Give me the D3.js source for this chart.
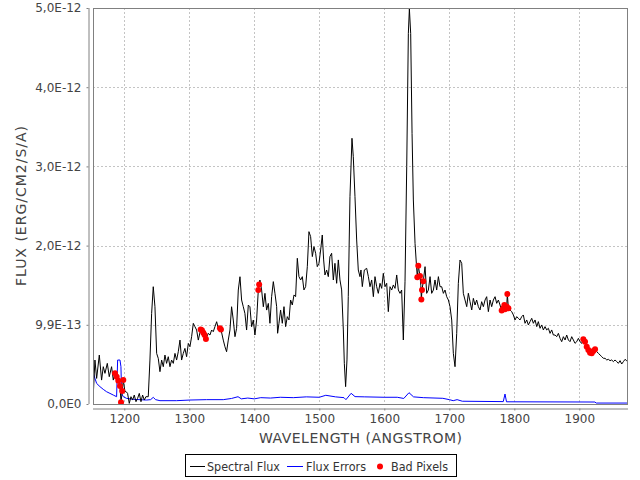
<!DOCTYPE html>
<html><head><meta charset="utf-8">
<script src="https://cdn.jsdelivr.net/npm/d3@7"></script>
<style>
html,body{margin:0;padding:0;background:#fff;}
svg{display:block;font-family:"DejaVu Sans",sans-serif;}
</style></head>
<body>
<svg id="chart" width="640" height="480"></svg>
<script>
// Flux values are in units of 1e-13 erg/cm2/s/A; [wavelength, flux]
const FLUX_UNIT = 1e-13;
const spectralFlux = [
[1151.9,0.9],[1152.3,1.13],[1154.9,5.55],[1157.5,3.23],[1161.6,6.18],[1165.1,3.02],[1167.7,4.71],[1170.3,3.87],
[1173.9,5.13],[1176.9,3.45],[1180.5,4.71],[1183.1,3.02],[1185.7,3.87],[1188.3,3.45],[1190.8,2.94],[1193.4,2.27],
[1195.0,0.21],[1196.9,1.64],[1198.5,3.03],[1201.0,1.60],[1203.6,1.50],[1205.1,1.34],[1207.7,0.08],[1210.3,0.92],
[1212.8,0.50],[1215.4,1.13],[1218.0,0.29],[1220.5,0.71],[1223.1,1.34],[1225.7,0.29],[1228.2,1.13],[1230.8,0.50],
[1233.3,0.92],[1236.9,0.92],[1239.5,5.55],[1242.1,11.44],[1244.6,14.81],[1247.2,12.28],[1249.8,6.39],[1252.3,5.76],
[1254.9,4.08],[1257.5,5.55],[1260.0,4.71],[1262.6,6.18],[1265.1,5.13],[1267.7,5.97],[1270.3,4.71],[1272.8,5.55],
[1275.4,5.13],[1278.0,6.39],[1280.5,5.55],[1283.1,6.60],[1285.7,8.07],[1288.2,5.55],[1290.8,6.39],[1293.3,7.02],
[1295.9,5.97],[1298.5,7.65],[1301.0,7.23],[1303.6,8.50],[1306.2,10.18],[1308.7,9.76],[1311.3,9.34],[1313.9,8.07],
[1317.5,9.40],[1319.5,9.30],[1321.6,9.00],[1323.6,8.70],[1325.6,8.20],[1329.2,8.92],[1331.8,8.71],[1334.4,9.34],
[1336.9,9.13],[1339.5,9.76],[1342.1,10.39],[1344.6,9.55],[1347.2,9.55],[1348.7,9.42],[1352.3,8.07],[1354.9,7.23],
[1357.4,6.60],[1360.0,8.07],[1362.6,9.34],[1365.1,12.28],[1367.7,10.60],[1370.3,8.50],[1372.8,9.55],[1375.4,14.39],
[1378.0,16.07],[1380.5,13.13],[1383.1,12.28],[1385.6,11.44],[1388.2,9.34],[1390.8,12.49],[1393.3,12.28],[1395.9,9.76],
[1398.5,10.60],[1401.0,8.71],[1403.6,10.60],[1406.2,14.39],[1407.5,15.10],[1408.7,15.65],[1411.3,14.39],[1413.9,12.28],
[1416.4,13.97],[1419.0,11.86],[1421.6,12.70],[1424.1,10.19],[1426.7,13.56],[1429.3,15.45],[1431.8,13.98],[1434.4,12.29],
[1435.9,8.93],[1438.0,10.19],[1440.5,11.87],[1443.1,10.19],[1445.7,12.29],[1448.2,9.77],[1450.8,11.03],[1453.4,10.61],
[1455.9,13.13],[1458.5,12.50],[1461.1,13.77],[1463.6,13.56],[1466.2,18.40],[1468.7,16.08],[1471.3,15.66],[1473.9,16.08],
[1476.4,14.40],[1479.0,14.82],[1481.6,17.34],[1484.1,21.76],[1486.7,21.13],[1489.3,18.61],[1491.8,19.87],[1494.4,19.03],
[1496.9,17.34],[1499.5,17.76],[1502.1,19.45],[1504.6,21.34],[1506.7,18.19],[1508.7,16.29],[1511.3,16.92],[1513.9,16.08],
[1516.4,18.61],[1519.0,19.03],[1521.6,15.66],[1524.1,17.76],[1526.7,15.24],[1529.3,18.19],[1531.8,15.66],[1534.4,14.40],
[1537.0,9.35],[1538.5,5.14],[1540.5,2.19],[1542.6,5.56],[1544.6,13.56],[1547.2,26.18],[1550.3,33.55],[1552.3,31.23],
[1554.9,26.18],[1557.5,20.71],[1560.0,16.92],[1562.6,16.08],[1564.1,16.92],[1566.2,14.82],[1569.3,16.92],[1572.9,17.13],
[1575.5,16.08],[1578.0,14.81],[1580.6,15.66],[1583.2,13.55],[1585.7,16.08],[1588.3,14.81],[1590.8,13.97],[1593.4,15.24],
[1596.0,14.60],[1598.5,16.50],[1601.1,14.81],[1603.7,15.24],[1606.2,11.66],[1608.8,14.81],[1611.4,14.39],[1613.9,15.03],
[1616.5,14.60],[1619.1,16.29],[1621.6,14.39],[1624.2,13.97],[1626.7,14.39],[1629.3,8.08],[1631.9,15.5],[1634.5,30.0],
[1637.0,46.8],[1638.6,49.9],[1640.6,46.8],[1642.7,34.17],[1644.7,25.76],[1647.3,20.28],[1649.5,17.5],[1650.8,16.0],
[1652.3,17.46],[1654.9,16.16],[1656.2,15.0],[1657.0,13.2],[1658.0,14.4],[1660.0,15.5],[1662.7,17.34],[1665.2,13.97],
[1667.8,14.39],[1670.4,16.08],[1672.9,13.97],[1675.5,14.39],[1678.0,15.66],[1680.6,14.39],[1683.2,16.08],[1685.7,14.81],
[1688.3,14.81],[1690.9,13.97],[1693.4,14.39],[1696.0,13.55],[1698.6,13.13],[1701.1,12.29],[1703.7,10.60],[1706.2,6.40],
[1708.8,4.71],[1711.4,8.92],[1713.9,15.24],[1716.5,18.18],[1719.1,17.76],[1721.6,13.97],[1724.2,13.13],[1726.8,12.29],
[1729.3,13.98],[1731.9,12.92],[1734.5,11.87],[1737.0,13.34],[1739.6,12.50],[1742.1,13.13],[1744.7,12.29],[1747.3,11.87],
[1749.8,12.92],[1752.4,12.29],[1755.0,13.13],[1757.5,13.55],[1760.1,11.66],[1762.7,13.13],[1765.2,12.29],[1767.8,13.13],
[1770.4,13.55],[1772.9,12.71],[1775.5,13.13],[1778.0,12.50],[1780.6,11.79],[1783.2,12.08],[1784.7,12.50],[1785.7,11.96],
[1788.3,12.29],[1789.3,13.89],[1790.9,12.08],[1793.4,11.87],[1796.0,11.66],[1798.6,11.24],[1801.1,10.61],[1803.7,11.03],
[1806.2,10.82],[1808.8,10.61],[1811.4,11.03],[1813.9,11.24],[1816.5,10.19],[1819.1,10.61],[1821.6,9.98],[1824.2,10.40],
[1826.8,10.82],[1829.3,10.19],[1831.9,10.61],[1834.5,9.77],[1837.0,10.40],[1839.6,9.56],[1842.1,9.98],[1844.7,9.35],
[1847.3,9.77],[1849.8,9.35],[1852.4,9.56],[1855.0,8.92],[1857.5,9.35],[1860.1,8.71],[1862.7,8.71],[1865.2,8.50],
[1867.8,8.92],[1870.4,8.29],[1872.9,7.87],[1875.5,8.50],[1878.1,8.08],[1880.6,8.71],[1883.2,8.08],[1885.7,7.87],
[1888.3,8.50],[1890.9,8.08],[1893.4,7.66],[1896.0,7.87],[1898.6,8.29],[1901.1,7.87],[1903.7,7.66],[1906.2,8.17],
[1908.8,7.87],[1911.4,7.24],[1913.9,6.82],[1916.5,6.48],[1919.1,6.40],[1921.6,6.69],[1924.2,6.90],[1926.8,6.61],
[1929.3,6.40],[1931.9,6.19],[1934.5,5.98],[1937.0,5.77],[1939.6,5.77],[1942.2,5.56],[1944.7,5.64],[1947.3,5.47],
[1949.8,5.56],[1952.4,5.35],[1955.0,5.56],[1957.5,5.35],[1960.1,5.14],[1962.7,5.47],[1965.2,5.05],[1967.8,5.35],
[1970.4,5.64],[1972.9,5.47],[1975.5,5.22]
];
const fluxErrors = [
[1151.9,4.2],[1152.3,3.95],[1154.9,3.24],[1157.5,2.60],[1162.6,2.19],[1167.7,1.85],[1172.8,1.55],[1178.0,1.34],
[1183.1,1.13],[1188.2,0.92],[1189.8,5.55],[1193.4,5.55],[1194.9,4.71],[1195.9,1.34],[1198.5,0.92],[1203.6,0.71],
[1213.9,0.59],[1234.4,0.50],[1240.5,0.55],[1244.6,0.84],[1248.2,0.55],[1254.9,0.42],[1280.5,0.42],[1301.0,0.50],
[1326.7,0.55],[1352.3,0.55],[1365.0,0.70],[1375.0,0.92],[1380.0,0.65],[1390.0,0.75],[1400.0,0.65],[1410.0,0.80],
[1425.0,0.75],[1440.0,0.85],[1460.0,0.80],[1480.0,0.90],[1500.0,0.85],[1510.0,1.10],[1525.0,0.90],[1538.0,0.80],
[1541.0,0.55],[1549.0,1.35],[1555.0,0.93],[1570.0,0.90],[1600.0,0.85],[1620.0,0.85],[1630.0,0.70],[1638.0,1.43],
[1645.0,0.90],[1660.0,0.80],[1690.0,0.72],[1700.0,0.55],[1706.0,0.42],[1712.0,0.55],[1720.0,0.35],[1783.0,0.30],
[1785.7,1.26],[1788.0,0.28],[1924.0,0.25],[1926.0,0.12],[1975.5,0.12]
];
const badPixels = [
[1185.7,3.87],[1188.3,3.45],[1190.8,2.94],[1193.4,2.27],[1195.0,0.21],[1196.9,1.64],[1198.5,3.03],
[1317.5,9.40],[1319.5,9.30],[1321.6,9.00],[1323.6,8.70],[1325.6,8.20],[1347.2,9.55],[1348.7,9.42],
[1406.2,14.39],[1407.5,15.10],
[1650.8,16.0],[1652.3,17.46],[1654.9,16.16],[1657.0,13.2],[1658.0,14.4],[1660.0,15.5],
[1780.6,11.79],[1783.2,12.08],[1784.7,12.50],[1785.7,11.96],[1788.3,12.29],[1789.3,13.89],[1790.9,12.08],
[1906.2,8.17],[1908.8,7.87],[1911.4,7.24],[1913.9,6.82],[1916.5,6.48],[1919.1,6.40],[1921.6,6.69],[1924.2,6.90]
];
const xTicks = [1200,1300,1400,1500,1600,1700,1800,1900];
const yTicks = [0,1e-12,2e-12,3e-12,4e-12,5e-12];
const yTickLabels = ["0,0E0","9,9E-13","2,0E-12","3,0E-12","4,0E-12","5,0E-12"];
const legendItems = ["Spectral Flux","Flux Errors","Bad Pixels"];

const svg = d3.select("#chart");
const L=93, R=628, T=8, B=404;
const x = d3.scaleLinear().domain([1151.9,1974.9]).range([L,R]);
const y = d3.scaleLinear().domain([0,5e-12]).range([B,T]);

svg.append("rect").attr("width",640).attr("height",480).attr("fill","#fff");

// grid
const grid = svg.append("g").attr("stroke","#c4c4c4").attr("stroke-width",1).attr("stroke-dasharray","2,2");
xTicks.forEach(t=>grid.append("line").attr("x1",Math.round(x(t))+0.5).attr("x2",Math.round(x(t))+0.5).attr("y1",T).attr("y2",B));
yTicks.slice(1).forEach(t=>grid.append("line").attr("x1",L).attr("x2",R).attr("y1",Math.round(y(t))+0.5).attr("y2",Math.round(y(t))+0.5));

svg.append("clipPath").attr("id","clip").append("rect").attr("x",L).attr("y",T-1).attr("width",R-L).attr("height",B-T+1);
const plot = svg.append("g").attr("clip-path","url(#clip)");
const line = d3.line().x(d=>x(d[0])).y(d=>y(d[1]*FLUX_UNIT));
plot.append("path").datum(fluxErrors).attr("d",line).attr("fill","none").attr("stroke","#0000ff").attr("stroke-width",1);
plot.append("path").datum(spectralFlux).attr("d",line).attr("fill","none").attr("stroke","#000").attr("stroke-width",1);
plot.selectAll("circle").data(badPixels).enter().append("circle")
  .attr("cx",d=>x(d[0])).attr("cy",d=>y(d[1]*FLUX_UNIT)).attr("r",3).attr("fill","#ff0000");

// plot outline
svg.append("rect").attr("x",L+0.5).attr("y",T+0.5).attr("width",R-L-1).attr("height",B-T)
  .attr("fill","none").attr("stroke","#808080");

// axes
const xAxis = d3.axisBottom(x).tickValues(xTicks).tickSize(2).tickPadding(4).tickFormat(d3.format("d"));
const gx = svg.append("g").attr("transform",`translate(0,${B+4.5})`).call(xAxis);
const yAxis = d3.axisLeft(y).tickValues(yTicks).tickSize(2).tickPadding(5).tickFormat((d,i)=>yTickLabels[i]);
const gy = svg.append("g").attr("transform",`translate(${L-4.5},0)`).call(yAxis);
[gx,gy].forEach(g=>{
  g.select(".domain").attr("stroke","#808080");
  g.selectAll(".tick line").attr("stroke","#808080");
  g.selectAll(".tick text").attr("fill","#444").attr("font-size",12).attr("font-family","DejaVu Sans");
});
gx.select(".domain").attr("d",`M${L},0.5H${R}`);
gy.select(".domain").attr("d",`M0.5,${T}V${B}`);

svg.append("text").attr("x",(L+R)/2).attr("y",443).attr("text-anchor","middle")
  .attr("font-size",14).attr("fill","#444").attr("textLength",203).attr("lengthAdjust","spacing")
  .text("WAVELENGTH (ANGSTROM)");
svg.append("text").attr("transform",`translate(26,${(T+B)/2}) rotate(-90)`).attr("text-anchor","middle")
  .attr("font-size",14).attr("fill","#444").attr("textLength",160).attr("lengthAdjust","spacing")
  .text("FLUX (ERG/CM2/S/A)");

// legend
const lg = svg.append("g");
lg.append("rect").attr("x",185.5).attr("y",454.5).attr("width",271).attr("height",22).attr("fill","#fff").attr("stroke","#000");
const ly = 466.5;
lg.append("line").attr("x1",190).attr("x2",205).attr("y1",ly).attr("y2",ly).attr("stroke","#000");
lg.append("text").attr("x",207).attr("y",471).attr("font-size",11.5).attr("fill","#333")
  .attr("textLength",73).attr("lengthAdjust","spacingAndGlyphs").text(legendItems[0]);
lg.append("line").attr("x1",287).attr("x2",303).attr("y1",ly).attr("y2",ly).attr("stroke","#0000ff");
lg.append("text").attr("x",306).attr("y",471).attr("font-size",11.5).attr("fill","#333")
  .attr("textLength",60).attr("lengthAdjust","spacingAndGlyphs").text(legendItems[1]);
lg.append("circle").attr("cx",380).attr("cy",ly).attr("r",3).attr("fill","#ff0000");
lg.append("text").attr("x",391).attr("y",471).attr("font-size",11.5).attr("fill","#333")
  .attr("textLength",57).attr("lengthAdjust","spacingAndGlyphs").text(legendItems[2]);
</script>
</body></html>
